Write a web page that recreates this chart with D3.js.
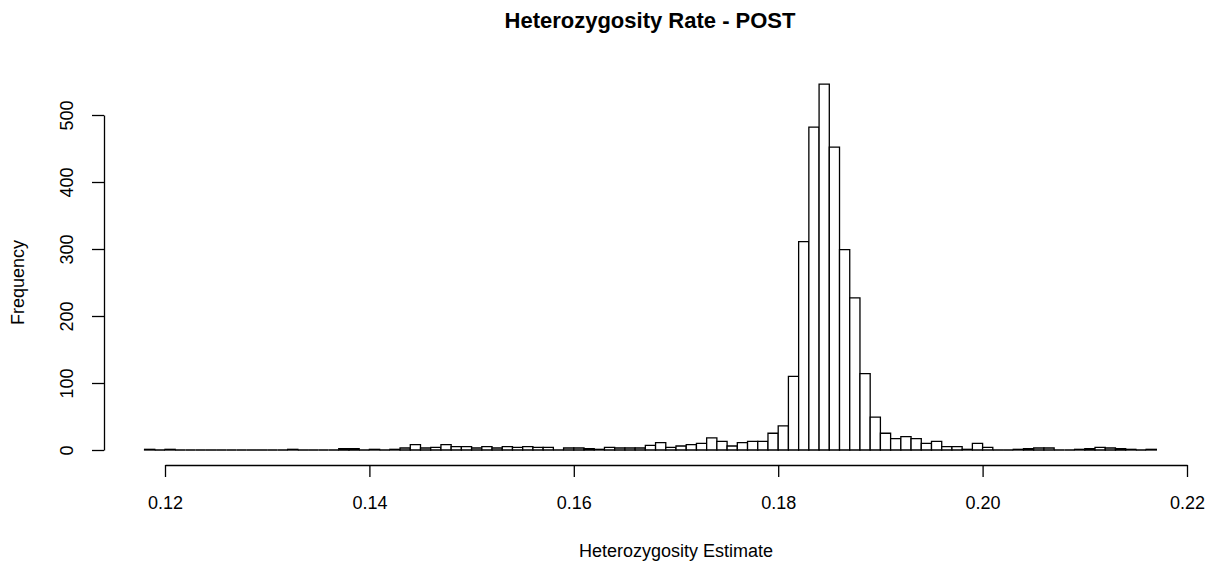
<!DOCTYPE html>
<meta charset="utf-8">
<html>
    <head>
        <title>Heterozygosity Rate - POST</title>
        <style>
            body { margin: 0; background: #fff; }
            text { font-family: "Liberation Sans", Arial, Helvetica, sans-serif; fill: #000; }
        </style>
    </head>

    <body>
        <div id="viz"></div>

        <script src="https://cdnjs.cloudflare.com/ajax/libs/d3/7.8.5/d3.min.js"></script>
        <script>
            // histogram bins: left edge of first bin and bin width
            var binStart = 0.118;
            var binWidth = 0.001;

            // counts per bin, 0.118 .. 0.216
            var counts = [
                1, 0, 1, 0, 0, 0, 0, 0, 0, 0,
                0, 0, 0, 0, 1, 0, 0, 0, 0, 2,
                2, 0, 1, 0, 1, 3, 8, 3, 4, 8,
                5, 5, 3, 5, 3, 5, 4, 5, 4, 4,
                0, 3, 3, 2, 1, 4, 3, 3, 3, 7,
                11, 4, 6, 8, 10, 18, 13, 6, 11, 13,
                13, 25, 36, 110, 311, 482, 546, 452, 299, 227,
                114, 49, 25, 17, 20, 17, 10, 13, 5, 5,
                1, 10, 4, 0, 0, 1, 2, 3, 3, 0,
                0, 1, 2, 4, 3, 2, 1, 0, 1
            ];

            var xTicks = [0.12, 0.14, 0.16, 0.18, 0.20, 0.22];
            var yTicks = [0, 100, 200, 300, 400, 500];

            var width = 1223, height = 566;

            var x = d3.scaleLinear().domain([0.12, 0.22]).range([165, 1187]);
            var y = d3.scaleLinear().domain([0, 500]).range([450, 115]);

            var svg = d3.select("#viz")
                .append("svg")
                .attr("width", width)
                .attr("height", height);

            var bins = counts.map(function (c, i) {
                return { x0: binStart + i * binWidth, x1: binStart + (i + 1) * binWidth, n: c };
            });

            // paths instead of rects so empty bins still show as a line on the base
            svg.append("g")
                .selectAll("path")
                .data(bins)
                .enter()
                .append("path")
                .attr("d", function (d) {
                    var p = d3.path();
                    p.rect(x(d.x0), y(d.n), x(d.x1) - x(d.x0), y(0) - y(d.n));
                    return p.toString();
                })
                .attr("fill", "#fff")
                .attr("stroke", "#000")
                .attr("stroke-width", 1.3);

            var xAxis = svg.append("g")
                .attr("transform", "translate(0,465)")
                .call(d3.axisBottom(x)
                    .tickValues(xTicks)
                    .tickFormat(d3.format(".2f"))
                    .tickSize(12)
                    .tickSizeOuter(0)
                    .tickPadding(19));

            var yAxis = svg.append("g")
                .attr("transform", "translate(104,0)")
                .call(d3.axisLeft(y)
                    .tickValues(yTicks)
                    .tickSize(12)
                    .tickSizeOuter(0));

            svg.selectAll(".domain, .tick line")
                .attr("stroke", "#000")
                .attr("stroke-width", 1.3);

            xAxis.selectAll("text")
                .attr("font-size", 18)
                .attr("fill", "#000");

            // R style: y tick labels parallel to the axis
            yAxis.selectAll(".tick text")
                .attr("font-size", 18)
                .attr("fill", "#000")
                .attr("x", null)
                .attr("dy", null)
                .attr("text-anchor", "middle")
                .attr("transform", "translate(-31,0) rotate(-90)");

            svg.append("text")
                .attr("x", 650)
                .attr("y", 28)
                .attr("text-anchor", "middle")
                .attr("font-size", 22)
                .attr("font-weight", "bold")
                .text("Heterozygosity Rate - POST");

            svg.append("text")
                .attr("x", x(0.17))
                .attr("y", 557)
                .attr("text-anchor", "middle")
                .attr("font-size", 18)
                .text("Heterozygosity Estimate");

            svg.append("text")
                .attr("transform", "translate(24," + y(250) + ") rotate(-90)")
                .attr("text-anchor", "middle")
                .attr("font-size", 18)
                .text("Frequency");
        </script>
    </body>
</html>
